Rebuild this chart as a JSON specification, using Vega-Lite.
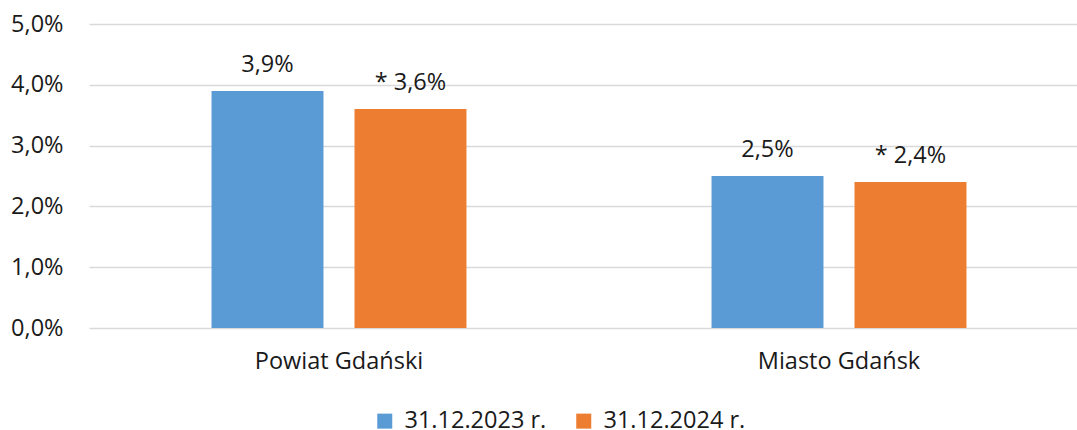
{
  "$schema": "https://vega.github.io/schema/vega-lite/v6.json",
  "autosize": "none",
  "width": 988,
  "height": 304,
  "padding": {"left": 89, "top": 24, "right": 0, "bottom": 102},
  "background": "white",
  "config": {
    "font": "Open Sans",
    "view": {"stroke": null},
    "axis": {"labelFont": "Open Sans", "labelColor": "#1a1a1a", "labelFontSize": 23.5}
  },
  "data": {
    "values": [
      {"region": "Powiat Gdański", "date": "31.12.2023 r.", "value": 3.9, "label": "3,9%"},
      {"region": "Powiat Gdański", "date": "31.12.2024 r.", "value": 3.6, "label": "* 3,6%"},
      {"region": "Miasto Gdańsk", "date": "31.12.2023 r.", "value": 2.5, "label": "2,5%"},
      {"region": "Miasto Gdańsk", "date": "31.12.2024 r.", "value": 2.4, "label": "* 2,4%"}
    ]
  },
  "encoding": {
    "x": {
      "field": "region", "type": "nominal", "sort": null, "title": null,
      "scale": {"range": [0, 1000], "paddingInner": 0, "paddingOuter": 0},
      "axis": {"domain": false, "ticks": false, "labelAngle": 0, "labelPadding": 21, "labelFontSize": 23.5}
    },
    "xOffset": {
      "field": "date", "type": "nominal", "sort": null,
      "scale": {"paddingInner": 0.217, "paddingOuter": 0.857}
    },
    "y": {
      "field": "value", "type": "quantitative", "title": null,
      "scale": {"domain": [0, 5], "nice": false},
      "axis": {
        "values": [0, 1, 2, 3, 4, 5],
        "labelExpr": "replace(format(datum.value, '.1f'), '.', ',') + '%'",
        "domain": false, "ticks": false, "labelPadding": 26,
        "grid": true, "gridColor": "#D9D9D9", "gridWidth": 1.5
      }
    }
  },
  "layer": [
    {
      "mark": {"type": "bar"},
      "encoding": {
        "color": {
          "field": "date", "type": "nominal", "sort": null,
          "scale": {"range": ["#5B9BD5", "#ED7D31"]},
          "legend": {
            "title": null, "orient": "none", "direction": "horizontal",
            "legendX": 284, "legendY": 385,
            "symbolType": "square", "symbolSize": 225, "symbolStrokeWidth": 0,
            "labelFontSize": 23.5, "labelColor": "#1a1a1a", "labelFont": "Open Sans",
            "columnPadding": 25, "symbolOffset": 0, "labelOffset": 8
          }
        }
      }
    },
    {
      "mark": {"type": "text", "baseline": "alphabetic", "dy": -19, "fontSize": 23.5, "color": "#1a1a1a", "font": "Open Sans"},
      "encoding": {"text": {"field": "label"}}
    }
  ]
}
